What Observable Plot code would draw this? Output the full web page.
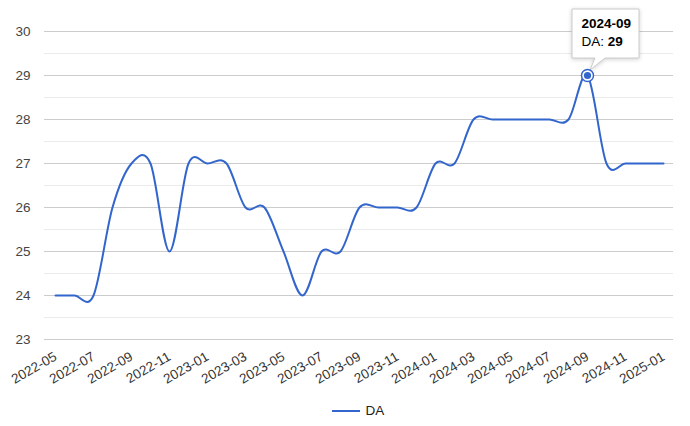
<!DOCTYPE html>
<html><head><meta charset="utf-8">
<script src="https://cdn.jsdelivr.net/npm/d3@7"></script>
<script src="https://cdn.jsdelivr.net/npm/@observablehq/plot@0.6"></script>
<style>
body{margin:0;background:#fff;font-family:Arial,"Liberation Sans",sans-serif;}
#legend{width:690px;height:31px;display:flex;justify-content:center;align-items:center;padding-left:26px;box-sizing:border-box;font-size:13.5px;color:#222;}
.sw{display:inline-block;width:28px;height:0;border-top:2.5px solid #3366cc;margin-right:6px}
</style></head><body><div id="chart"></div><div id="legend"><span class="sw"></span><span>DA</span></div>
<script>
const months = ["2022-05","2022-06","2022-07","2022-08","2022-09","2022-10","2022-11","2022-12",
  "2023-01","2023-02","2023-03","2023-04","2023-05","2023-06","2023-07","2023-08","2023-09","2023-10","2023-11","2023-12",
  "2024-01","2024-02","2024-03","2024-04","2024-05","2024-06","2024-07","2024-08","2024-09","2024-10","2024-11","2024-12",
  "2025-01"];
const values = [24,24,24,26,27,27,25,27,
  27,27,26,26,25,24,25,25,26,26,26,26,
  27,27,28,28,28,28,28,28,29,27,27,27,
  27];
const seriesName = "DA";
const yTicks = [23,24,25,26,27,28,29,30];
const yMinorTicks = [23.5,24.5,25.5,26.5,27.5,28.5,29.5];
const xTicks = ["2022-05","2022-07","2022-09","2022-11","2023-01","2023-03","2023-05","2023-07","2023-09","2023-11",
  "2024-01","2024-03","2024-05","2024-07","2024-09","2024-11","2025-01"];
const tooltipMonth = "2024-09";

const data = months.map((m, i) => ({month: m, value: values[i]}));
const focus = data.filter(d => d.month === tooltipMonth);
const blue = "#3366cc";

function tooltip(index, scales, vals, dims, context) {
  const d = focus[0];
  const px = scales.x(d.month), py = scales.y(d.value);
  const g = d3.create("svg:g").attr("transform", `translate(${px},${py})`)
    .attr("text-anchor", "start");
  g.append("path")
    .attr("d", "M-15,-66H52V-17H18L3,-5L8,-17H-15Z")
    .attr("fill", "#fff").attr("stroke", "#cccccc").attr("stroke-width", 1)
    .style("filter", "drop-shadow(0px 1px 2px rgba(0,0,0,0.18))");
  g.append("text").attr("x", -5.5).attr("y", -51.5).attr("dy", "0.35em")
    .attr("text-anchor", "start")
    .attr("font-weight", "bold").attr("fill", "#000").attr("font-size", 13.5)
    .text(d.month);
  const t2 = g.append("text").attr("x", -5.5).attr("y", -33.5).attr("dy", "0.35em")
    .attr("text-anchor", "start")
    .attr("fill", "#000").attr("font-size", 13.5);
  t2.append("tspan").text(seriesName + ": ");
  t2.append("tspan").attr("font-weight", "bold").text(d.value);
  return g.node();
}

const chart = Plot.plot({
  width: 690,
  height: 395,
  marginTop: 31,
  marginBottom: 56,
  marginLeft: 44,
  marginRight: 17,
  style: {fontSize: "13.5px", fontFamily: "Arial, 'Liberation Sans', sans-serif", color: "#444", background: "#fff"},
  x: {type: "point", domain: months, padding: 0.55, label: null},
  y: {domain: [23, 30], label: null},
  marks: [
    Plot.ruleY(yMinorTicks, {stroke: "#ebebeb", strokeWidth: 1}),
    Plot.ruleY(yTicks, {stroke: "#cccccc", strokeWidth: 1}),
    Plot.axisY({ticks: yTicks, tickFormat: d => String(d), tickSize: 0, tickPadding: 14, fill: "#444", label: null}),
    Plot.axisX({ticks: xTicks, tickSize: 0, tickPadding: 16, tickRotate: -30, fill: "#333", label: null}),
    Plot.line(data, {x: "month", y: "value", stroke: blue, strokeWidth: 2, curve: "cardinal", tension: 0}),
    tooltip,
    Plot.dot(focus, {x: "month", y: "value", r: 6, fill: "#fff", stroke: blue, strokeWidth: 1.5}),
    Plot.dot(focus, {x: "month", y: "value", r: 3.6, fill: blue})
  ]
});
document.getElementById("chart").appendChild(chart);
</script>
</body></html>
